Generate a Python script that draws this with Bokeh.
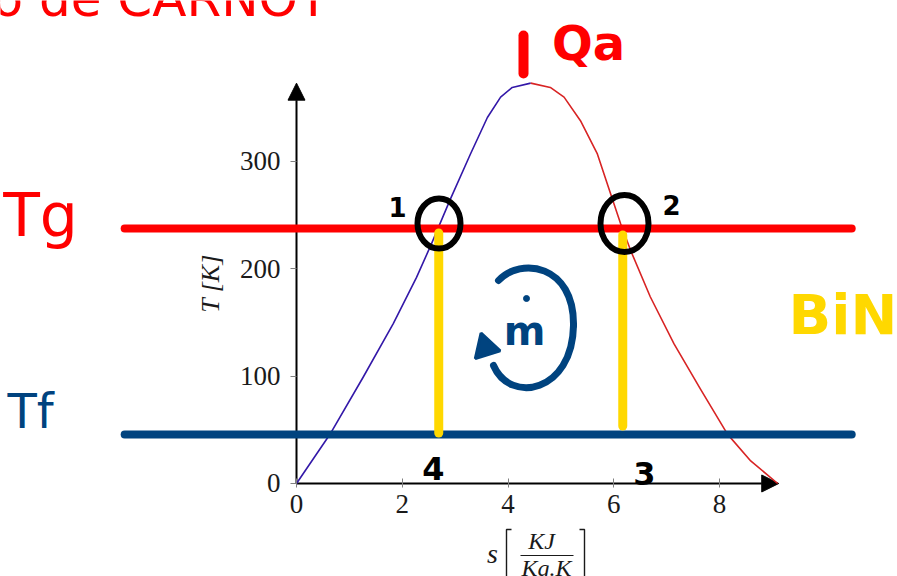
from bokeh.plotting import figure
from bokeh.models import Range1d, FixedTicker, Arrow, NormalHead, Label
from bokeh.embed import file_html
from bokeh.resources import INLINE

# Saturation dome of the working fluid: entropy s [kJ/kg.K], temperature T [K]
s_liquid = [0.0, 0.63, 1.26, 1.83, 2.27, 2.55, 2.91, 3.29, 3.61, 3.86, 4.08, 4.43]
T_liquid = [0.0, 45.6, 99.0, 149.0, 192.0, 223.0, 265.0, 307.0, 341.0, 360.0, 369.0, 373.0]
s_vapour = [4.43, 4.80, 5.06, 5.37, 5.69, 5.94, 6.13, 6.32, 6.69, 7.14, 7.64, 8.15, 8.59, 9.10]
T_vapour = [373.0, 369.0, 360.0, 338.0, 307.0, 270.0, 242.0, 217.0, 174.0, 130.0, 88.0, 46.0, 21.0, 0.0]

# Isotherms of the hot source (Tg) and the cold source (Tf)
T_hot = 237.6
T_cold = 45.7
iso_s = [-3.25, 10.5]

# Adiabats 1-4 and 2-3
s_adiabat = [2.69, 6.17]
T_adiabat_top = [233.4, 231.5]
T_adiabat_bottom = [47.0, 53.6]

x_ticks = [0, 2, 4, 6, 8]
y_ticks = [0, 100, 200, 300]
s_axis_end = 9.12
T_axis_end = 373.0

W, H = 897, 576
X0, X1 = -5.598, 11.366
Y0, Y1 = -86.65, 450.0

RED = "#ff0000"
NAVY = "#00437f"
GOLD = "#ffd800"
INK = "#1a1a1a"


def dx(px):
    """Canvas pixel column -> entropy."""
    return X0 + px / W * (X1 - X0)


def dy(py):
    """Canvas pixel row -> temperature."""
    return Y1 - py / H * (Y1 - Y0)


p = figure(width=W, height=H, x_range=Range1d(X0, X1), y_range=Range1d(Y0, Y1),
           output_backend="svg", toolbar_location=None, min_border=0,
           outline_line_color=None, background_fill_color="white")
p.grid.visible = False

# axes crossing at the origin
p.xaxis.fixed_location = 0
p.yaxis.fixed_location = 0
p.xaxis.bounds = (0, s_axis_end)
p.yaxis.bounds = (0, T_axis_end)
p.xaxis.ticker = FixedTicker(ticks=x_ticks)
p.yaxis.ticker = FixedTicker(ticks=y_ticks)
p.axis.axis_line_color = None
p.axis.minor_tick_line_color = None
p.axis.major_tick_line_color = "#808080"
p.axis.major_tick_line_width = 1
p.xaxis.major_tick_in = 5
p.xaxis.major_tick_out = 4
p.yaxis.major_tick_in = 0
p.yaxis.major_tick_out = 6
p.axis.major_label_text_font = "Liberation Serif"
p.axis.major_label_text_font_size = "27px"
p.axis.major_label_text_color = INK
p.xaxis.major_label_standoff = 8
p.yaxis.major_label_standoff = 10
p.yaxis.axis_label = "T [K]"
p.yaxis.axis_label_text_font = "Liberation Serif"
p.yaxis.axis_label_text_font_style = "italic"
p.yaxis.axis_label_text_font_size = "26px"
p.yaxis.axis_label_text_color = INK
p.yaxis.axis_label_standoff = 12

for xe, ye in ((s_axis_end, 0), (0, T_axis_end)):
    p.add_layout(Arrow(end=NormalHead(size=17, fill_color="black", line_color="black", line_width=1),
                       x_start=0, y_start=0, x_end=xe, y_end=ye,
                       line_width=2, line_color="black", level="underlay"))

# saturation dome
p.line(s_liquid, T_liquid, line_color="#3318a8", line_width=1.6, line_join="round")
p.line(s_vapour, T_vapour, line_color="#d82424", line_width=1.6, line_join="round")

# isotherms
p.line(iso_s, [T_hot, T_hot], line_color=RED, line_width=8, line_cap="round")
p.line(iso_s, [T_cold, T_cold], line_color=NAVY, line_width=8, line_cap="round")

# adiabats
p.segment(x0=s_adiabat, y0=T_adiabat_bottom, x1=s_adiabat, y1=T_adiabat_top,
          line_color=GOLD, line_width=9, line_cap="round")

# circled states 1 and 2
p.ellipse(x=[dx(438.5), dx(624)], y=[dy(223), dy(223)], width=[43, 48], height=[50, 57],
          width_units="screen", height_units="screen", fill_color=None,
          line_color="black", line_width=6)

# cycle direction loop
p.bezier(x0=[dx(498), dx(573)], y0=[dy(280), dy(325)],
         x1=[dx(573), dx(493)], y1=[dy(325), dy(365)],
         cx0=[dx(520), dx(572)], cy0=[dy(256), dy(392)],
         cx1=[dx(574), dx(510)], cy1=[dy(264), dy(404)],
         line_color=NAVY, line_width=7, line_cap="round")
p.scatter(x=[dx(485)], y=[dy(347)], marker="triangle", size=26, angle=0.3,
          fill_color=NAVY, line_color=NAVY, line_width=3)
p.scatter(x=[dx(526)], y=[dy(298)], marker="circle", size=6, fill_color=NAVY, line_color=NAVY)

# heat input mark near the critical point
p.segment(x0=[dx(523)], y0=[dy(35)], x1=[dx(523)], y1=[dy(73)],
          line_color=RED, line_width=10, line_cap="round")

# brackets of the entropy unit
p.multi_line(xs=[[dx(511), dx(506), dx(506), dx(511)], [dx(579), dx(584), dx(584), dx(579)]],
             ys=[[dy(529), dy(529), dy(590), dy(590)], [dy(529), dy(529), dy(590), dy(590)]],
             line_color=INK, line_width=1.4)
p.segment(x0=[dx(520)], y0=[dy(555)], x1=[dx(573)], y1=[dy(555)], line_color=INK, line_width=1.2)


def note(text, px, py, size, color, font="DejaVu Sans", style="bold", align="center"):
    p.add_layout(Label(x=dx(px), y=dy(py), text=text, text_align=align,
                       text_baseline="middle", text_font=font, text_font_style=style,
                       text_font_size=f"{size}px", text_color=color))


# title
note("Ciclo de CARNOT", 328, -2, 50, RED, style="normal", align="right")

# hand notes
note("Tg", 40, 214, 60, RED, style="normal")
note("Tf", 30, 410, 48, NAVY, style="normal")
note("Qa", 588, 42, 48, RED)
note("BiNN", 788, 314, 56, GOLD, align="left")
note("1", 397, 206, 26, "black")
note("2", 671, 204, 26, "black")
note("4", 433, 468, 32, "black")
note("3", 644, 473, 32, "black")
note("m", 524, 330, 40, NAVY)

# entropy axis label  s [KJ / Kg.K]
serif = "Liberation Serif"
note("s", 492, 553, 28, INK, font=serif, style="italic")
note("KJ", 541, 540, 24, INK, font=serif, style="italic")
note("Kg.K", 546, 567, 24, INK, font=serif, style="italic")

open("out.html", "w").write(file_html(p, INLINE))
